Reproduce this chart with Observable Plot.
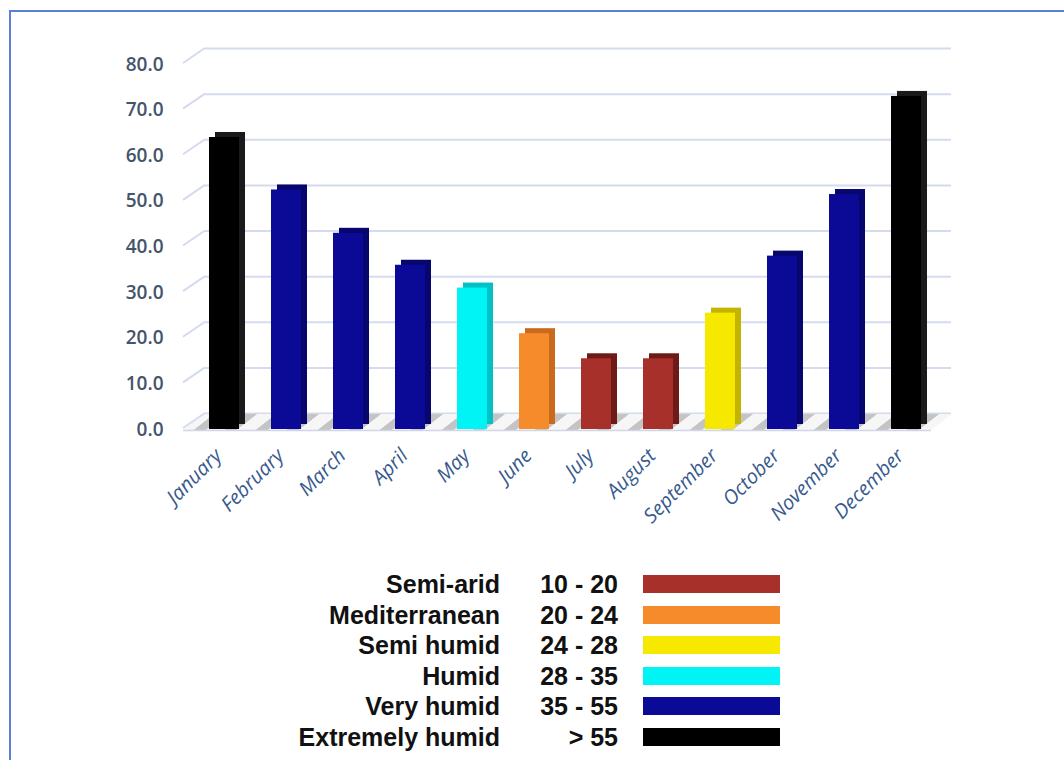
<!DOCTYPE html>
<html>
<head>
<meta charset="utf-8">
<script src="https://cdn.jsdelivr.net/npm/d3@7"></script>
<script src="https://cdn.jsdelivr.net/npm/@observablehq/plot@0.6"></script>
<style>
  html, body { margin: 0; padding: 0; background: #ffffff; }
  #page { position: relative; width: 1064px; height: 760px; overflow: hidden; }
  #frame { position: absolute; left: 9px; top: 10px; width: 1100px; height: 800px;
           border-top: 2px solid #5b7fd8; border-left: 2px solid #5b7fd8; }
  #chart { position: absolute; left: 0; top: 0; }
  #legend { position: absolute; left: 0; top: 569px; width: 1064px;
            font-family: "Liberation Sans", Arial, sans-serif; font-weight: bold;
            font-size: 25px; color: #111111; }
  .row { position: relative; width: 1064px; height: 30.6px; line-height: 30.6px; }
  .row .name { position: absolute; right: 564px; white-space: nowrap; }
  .row .range { position: absolute; right: 446px; white-space: nowrap; }
  .row .swatch { position: absolute; left: 643px; top: 6px; width: 137px; height: 18px; }
</style>
</head>
<body>
<div id="page">
  <svg width="0" height="0" style="position:absolute">
    <defs>
      <pattern id="floorHatch" patternUnits="userSpaceOnUse" width="31" height="16" patternTransform="skewX(-52)">
        <rect x="0" y="0" width="31" height="16" fill="#f6f6f6"></rect>
        <rect x="0" y="0" width="12" height="16" fill="#c4c4c4"></rect>
      </pattern>
    </defs>
  </svg>
  <div id="frame"></div>
  <div id="chart"></div>
  <div id="legend"></div>
</div>
<script>
// Monthly values
const months = ["January", "February", "March", "April", "May", "June",
                "July", "August", "September", "October", "November", "December"];
const values = [64.0, 52.5, 43.0, 36.0, 31.0, 21.0, 15.5, 15.5, 25.5, 38.0, 51.5, 73.0];

// Climate classes
const classNames  = ["Semi-arid", "Mediterranean", "Semi humid", "Humid", "Very humid", "Extremely humid"];
const classRanges = ["10 - 20", "20 - 24", "24 - 28", "28 - 35", "35 - 55", "> 55"];
const classLower  = [10, 20, 24, 28, 35, 55];
const classColors = ["#a8302a", "#f68b2c", "#f7e800", "#00f4f6", "#0a0a96", "#000000"];
const classSides  = ["#6e1a16", "#c96a1c", "#c2b400", "#00c2c6", "#06066c", "#1a1a1a"];

const yTicks = [0, 10, 20, 30, 40, 50, 60, 70, 80];

const classOf = v => {
  let k = 0;
  classLower.forEach((lo, i) => { if (v >= lo) k = i; });
  return k;
};
const data = months.map((m, i) => ({month: m, value: values[i], cls: classOf(values[i])}));

const chart = Plot.plot({
  width: 1064,
  height: 560,
  marginLeft: 192,
  marginRight: 126,
  marginTop: 64,
  marginBottom: 131,
  style: {background: "transparent", overflow: "visible"},
  x: {domain: months, paddingInner: 0.52, paddingOuter: 0.26, label: null},
  y: {domain: [0, 80], label: null},
  marks: [
    // back-wall gridlines
    Plot.ruleY(yTicks, {stroke: "#d4dbee", strokeWidth: 2, dx: 13, dy: -16}),
    // bar depth (top and right faces)
    Plot.barY(data, {x: "month", y: "value", fill: d => classSides[d.cls], dx: 6, dy: -5}),
    // bar front faces
    Plot.barY(data, {x: "month", y: "value", fill: d => classColors[d.cls]}),
    Plot.axisY({
      ticks: yTicks, tickFormat: d => d.toFixed(1), tickSize: 0, tickPadding: 29,
      fontFamily: "Open Sans", fontSize: 19, fontWeight: 600, fill: "#44546a"
    }),
    Plot.axisX({
      tickRotate: -45, tickSize: 0, tickPadding: 23, dx: -6,
      fontFamily: "Open Sans", fontSize: 20, fontStyle: "italic", fill: "#385a8e"
    })
  ]
});
document.getElementById("chart").appendChild(chart);

// 3D floor and the gridline returns on the left, placed through the plot's y scale
const y = chart.scale("y");
const svg = d3.select(chart);
const left = 192, right = 1064 - 126;
const depth = [21, -16];
const y0 = y.apply(0);
const floorPts = [
  [left - 9, y0 + 1], [right - 7, y0 + 1],
  [right - 7 + depth[0], y0 + 1 + depth[1]], [left - 9 + depth[0], y0 + 1 + depth[1]]
];
const firstBar = svg.select("g[aria-label='bar']").node();
const floor = svg.insert("g", () => firstBar);
floor.append("polygon")
  .attr("points", floorPts.map(p => p.join(",")).join(" "))
  .attr("fill", "url(#floorHatch)");
floor.append("line")
  .attr("x1", left - 9).attr("x2", right - 7)
  .attr("y1", y0 + 1.5).attr("y2", y0 + 1.5)
  .attr("stroke", "#d0d6e6").attr("stroke-width", 1.5);
const returns = svg.insert("g", () => firstBar);
yTicks.forEach(t => {
  const yy = y.apply(t);
  returns.append("line")
    .attr("x1", left - 9).attr("y1", yy - 1)
    .attr("x2", left + 13).attr("y2", yy - 16)
    .attr("stroke", "#d4dbee").attr("stroke-width", 2);
});

// Legend
const legend = d3.select("#legend");
classNames.forEach((name, i) => {
  const row = legend.append("div").attr("class", "row");
  row.append("span").attr("class", "name").text(name);
  row.append("span").attr("class", "range").text(classRanges[i]);
  row.append("div").attr("class", "swatch").style("background", classColors[i]);
});
</script>
</body>
</html>
